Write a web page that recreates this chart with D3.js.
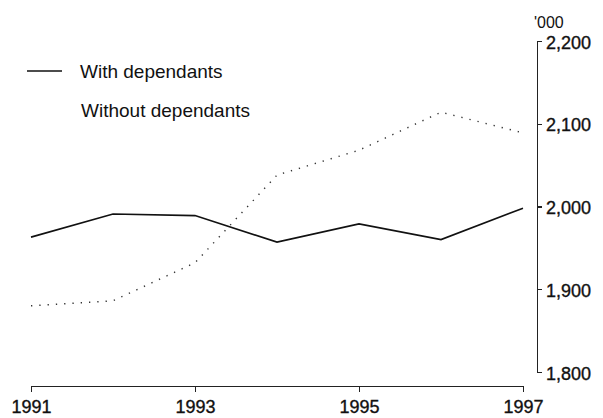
<!DOCTYPE html>
<html>
<head>
    <title>With and without dependants</title>
    <script src="https://cdnjs.cloudflare.com/ajax/libs/d3/7.8.5/d3.min.js"></script>
    <style>
        body { margin: 0; background: #fff; }
        .chart text { font-family: "Liberation Sans", Arial, sans-serif; fill: #111; }
        .axis path, .axis line { stroke: #222; stroke-width: 1.2; shape-rendering: crispEdges; }
        .axis text { font-size: 18px; stroke: #111; stroke-width: 0.35px; }
        .legend text { font-size: 19px; }
    </style>
</head>
<body>
    <div class="chart"></div>
    <script>
        // data ('000)
        const years = [1991, 1992, 1993, 1994, 1995, 1996, 1997];
        const withDependants = [1963, 1991, 1989, 1957, 1979, 1960, 1998];
        const withoutDependants = [1880, 1886, 1932, 2038, 2068, 2114, 2089];
        const xTicks = [1991, 1993, 1995, 1997];
        const yTicks = [1800, 1900, 2000, 2100, 2200];

        const W = 603, H = 418;
        const svg = d3.select(".chart").append("svg")
            .attr("width", W)
            .attr("height", H);

        const x = d3.scaleLinear().domain([1991, 1997]).range([31, 523]);
        const y = d3.scaleLinear().domain([1800, 2200]).range([372, 41]);

        // x axis along the bottom
        svg.append("g")
            .attr("class", "axis")
            .attr("transform", "translate(0,386)")
            .call(d3.axisBottom(x)
                .tickValues(xTicks)
                .tickFormat(d3.format("d"))
                .tickSize(6)
                .tickPadding(8));

        // y axis on the right
        svg.append("g")
            .attr("class", "axis")
            .attr("transform", "translate(537,0)")
            .call(d3.axisRight(y)
                .tickValues(yTicks)
                .tickFormat(d3.format(","))
                .tickSize(5)
                .tickPadding(4))
            .selectAll("text")
            .attr("dy", "0.4em");

        svg.append("text")
            .attr("x", 534)
            .attr("y", 28)
            .style("font-size", "16px")
            .text("'000");

        const line = d3.line()
            .x((d, i) => x(years[i]))
            .y(d => y(d));

        svg.append("path")
            .datum(withoutDependants)
            .attr("fill", "none")
            .attr("stroke", "#333")
            .attr("stroke-width", 1.4)
            .attr("stroke-dasharray", "1.3,7")
            .attr("d", line);

        svg.append("path")
            .datum(withDependants)
            .attr("fill", "none")
            .attr("stroke", "#111")
            .attr("stroke-width", 1.6)
            .attr("d", line);

        // legend
        const legend = svg.append("g").attr("class", "legend");
        legend.append("line")
            .attr("x1", 27).attr("x2", 62)
            .attr("y1", 71).attr("y2", 71)
            .attr("stroke", "#111")
            .attr("stroke-width", 1.5);
        legend.append("text")
            .attr("x", 80).attr("y", 78)
            .text("With dependants");
        legend.append("text")
            .attr("x", 81).attr("y", 117)
            .text("Without dependants");
    </script>
</body>
</html>
